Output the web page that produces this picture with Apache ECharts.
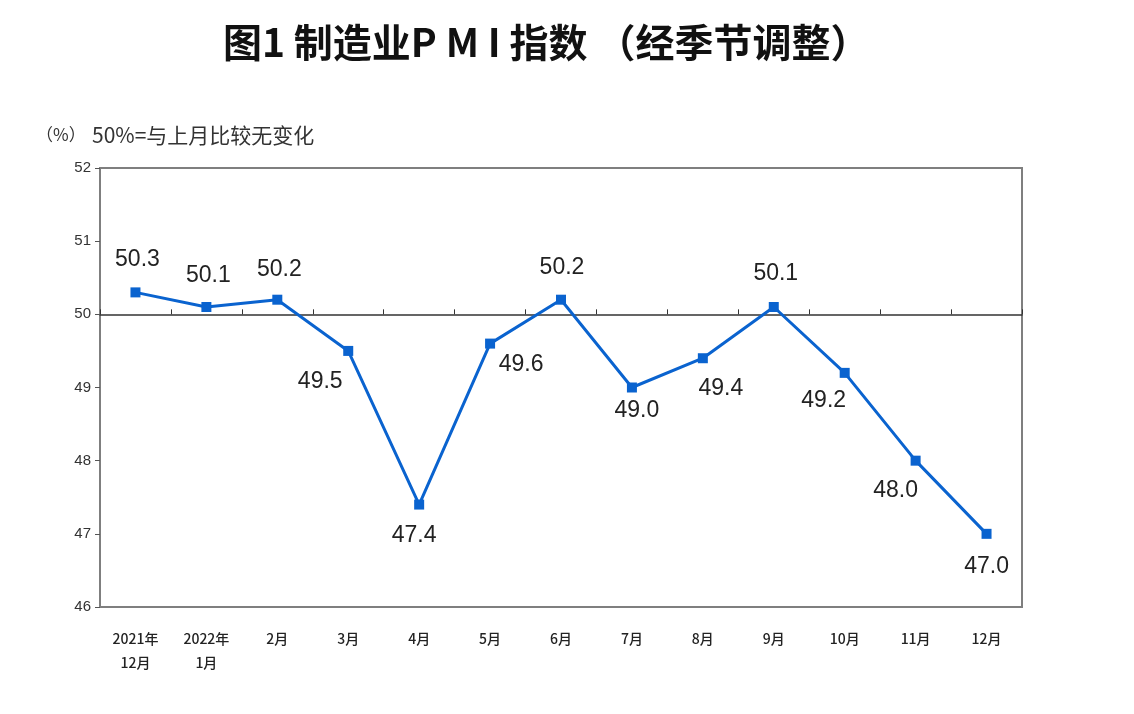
<!DOCTYPE html>
<html><head><meta charset="utf-8">
<script src="https://cdn.jsdelivr.net/npm/echarts@6/dist/echarts.min.js"></script>
<style>html,body{margin:0;padding:0;background:#fff}#c{width:1134px;height:714px}</style>
</head><body><div id="c"></div>
<script>
const categories = ['2021年\n12月','2022年\n1月','2月','3月','4月','5月','6月','7月','8月','9月','10月','11月','12月'];
const pmiValues = [50.3, 50.1, 50.2, 49.5, 47.4, 49.6, 50.2, 49.0, 49.4, 50.1, 49.2, 48.0, 47.0];
const yTicks = [46, 47, 48, 49, 50, 51, 52];
const baseLine = 50;

// label placement (style only)
const labelPlace = [
  ['top', 2, -11], ['top', 2, -10], ['top', 2, -9], ['bottom', -28, 9],
  ['bottom', -5, 10], ['bottom', 31, 0], ['top', 1, -11], ['bottom', 5, 2],
  ['bottom', 18, 9], ['top', 2, -12], ['bottom', -21, 6], ['bottom', -20, 8],
  ['bottom', 0, 11]
];

const chart = echarts.init(document.getElementById('c'));
const cjk = '"Noto Sans CJK SC", "Noto Sans", sans-serif';
const seriesData = pmiValues.map((v, i) => ({
  value: +(v - baseLine).toFixed(2),
  label: { position: labelPlace[i][0], offset: [labelPlace[i][1], labelPlace[i][2]] }
}));

chart.setOption({
  animation: false,
  backgroundColor: '#fff',
  title: {
    text: '图1 制造业P M I 指数 （经季节调整）',
    left: 218, top: 18,
    textStyle: { fontFamily: cjk, fontSize: 39, fontWeight: 'bold', color: '#111' }
  },
  graphic: [
    { type: 'text', left: 36, top: 126, style: { text: '（%）', font: '17px ' + cjk, fill: '#333' } },
    { type: 'text', left: 92, top: 125, style: { text: '50%=与上月比较无变化', font: '21px ' + cjk, fill: '#333' } }
  ],
  grid: { left: 100, right: 112, top: 168, bottom: 107, show: true, borderColor: '#7f7f7f', borderWidth: 2 },
  xAxis: [
    {
      type: 'category', data: categories, position: 'bottom',
      axisLine: { show: false, onZero: false }, axisTick: { show: false },
      axisLabel: { fontFamily: cjk, fontSize: 14, color: '#222', margin: 20, lineHeight: 24, fontWeight: 500 }
    },
    {
      type: 'category', data: categories, position: 'top',
      axisLine: { show: true, onZero: true, lineStyle: { color: '#333', width: 1.5 } },
      axisTick: { show: true, inside: false, length: 5, lineStyle: { color: '#333' } },
      axisLabel: { show: false }
    }
  ],
  yAxis: {
    type: 'value', min: yTicks[0] - baseLine, max: yTicks[yTicks.length - 1] - baseLine, interval: 1,
    axisLine: { show: true, onZero: false, lineStyle: { color: '#7f7f7f', width: 2 } },
    axisTick: { show: true, length: 5, lineStyle: { color: '#555' } },
    splitLine: { show: false },
    axisLabel: { fontFamily: '"Liberation Sans", Arial, sans-serif', fontSize: 15, color: '#333', margin: 9,
      formatter: v => String(v + baseLine) }
  },
  series: [{
    type: 'line', xAxisIndex: 0, data: seriesData,
    symbol: 'rect', symbolSize: 10,
    lineStyle: { color: '#0a63cf', width: 3 },
    itemStyle: { color: '#0a63cf' },
    label: {
      show: true, fontFamily: '"Liberation Sans", Arial, sans-serif', fontSize: 23, color: '#222',
      formatter: p => pmiValues[p.dataIndex].toFixed(1)
    }
  }]
});
</script></body></html>
